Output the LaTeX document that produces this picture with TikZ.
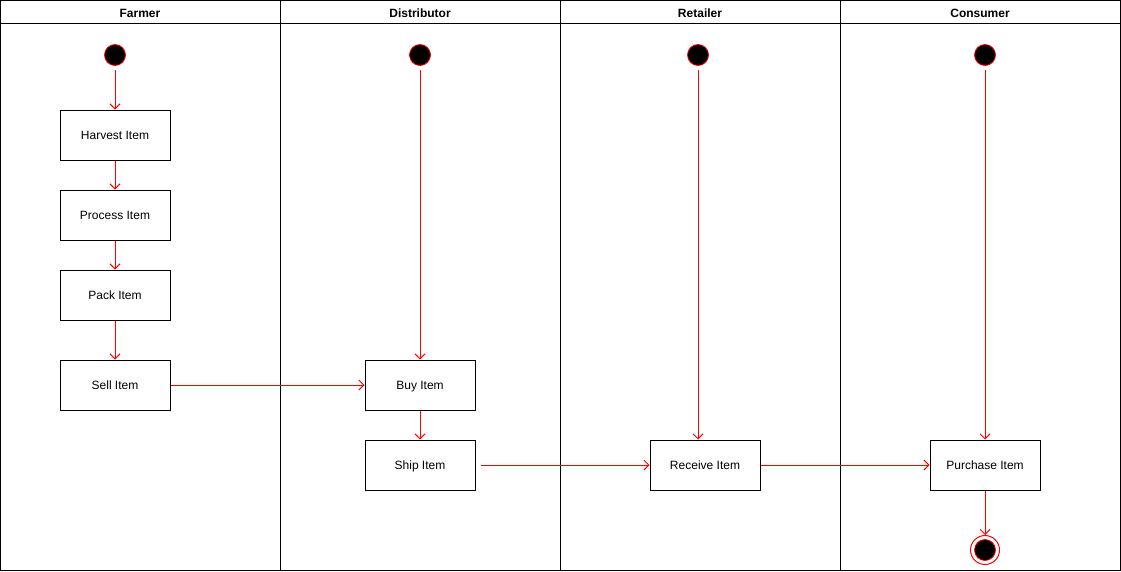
\documentclass[tikz,border=0pt]{standalone}
\usepackage{fontspec}
\setmainfont{Liberation Sans}
\usetikzlibrary{arrows.meta}
\begin{document}
\begin{tikzpicture}[x=1pt,y=-1pt,
  lane/.style={draw=black,line width=1pt},
  act/.style={draw=black,line width=1pt,fill=white,minimum width=110pt,minimum height=50pt,inner sep=0pt,text height=10pt,text depth=2pt,font=\fontsize{12}{14}\selectfont},
  hdr/.style={font=\fontsize{12}{14}\selectfont\bfseries,text height=10pt,text depth=2pt},
  startnode/.style={circle,fill=black,draw=red,line width=0.8pt,minimum size=21pt,inner sep=0pt},
  flow/.style={draw=red,line width=1pt,-{Straight Barb[length=5pt,width=10pt]}}
]
\useasboundingbox (0,0) rectangle (1121,571);
% frame and lanes
\draw[lane] (0.5,0.5) rectangle (1120.5,570.5);
\draw[lane] (0.5,23) -- (1120.5,23);
\foreach \x in {280,560,840} \draw[lane] (\x,0.5) -- (\x,570.5);
\node[hdr] (h1) at (140,13) {Farmer};
\node[hdr] (h2) at (420,13) {Distributor};
\node[hdr] (h3) at (700,13) {Retailer};
\node[hdr] (h4) at (980,13) {Consumer};
% start nodes
\node[startnode] (s1) at (115,55) {};
\node[startnode] (s2) at (420,55) {};
\node[startnode] (s3) at (698,55) {};
\node[startnode] (s4) at (985,55) {};
% activities
\node[act] (harvest) at (115,135) {Harvest Item};
\node[act] (process) at (115,215) {Process Item};
\node[act] (pack) at (115,295) {Pack Item};
\node[act] (sell) at (115,385) {Sell Item};
\node[act] (buy) at (420,385) {Buy Item};
\node[act] (ship) at (420,465) {Ship Item};
\node[act] (receive) at (705,465) {Receive Item};
\node[act] (purchase) at (985,465) {Purchase Item};
% end node
\node[circle,draw=red,line width=1pt,minimum size=29pt,inner sep=0pt] (end) at (985,550) {};
\node[circle,fill=black,draw=red,line width=0.8pt,minimum size=21pt,inner sep=0pt] (endin) at (985,550) {};
% flows
\draw[flow,shorten <=4pt] (s1) -- (harvest);
\draw[flow] (harvest) -- (process);
\draw[flow] (process) -- (pack);
\draw[flow] (pack) -- (sell);
\draw[flow] (sell) -- (buy);
\draw[flow,shorten <=4pt] (s2) -- (buy);
\draw[flow] (buy) -- (ship);
\draw[flow,shorten <=4pt] (s3) -- (s3 |- receive.north);
\draw[flow,shorten <=5pt] (ship) -- (receive);
\draw[flow] (receive) -- (purchase);
\draw[flow,shorten <=4pt] (s4) -- (purchase);
\draw[flow] (purchase) -- (end);
\end{tikzpicture}
\end{document}
